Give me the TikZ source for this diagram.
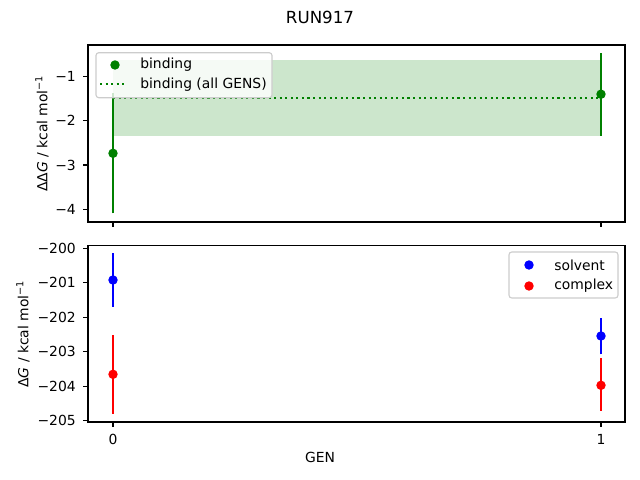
\documentclass[tikz,border=0pt]{standalone}
\usepackage{fontspec}
\setmainfont{DejaVu Sans}
\usepackage{tikz}
\usetikzlibrary{positioning}
\definecolor{mplgreen}{RGB}{0,128,0}
\definecolor{mplframe}{RGB}{204,204,204}
\tikzset{
    errbar/.style={line width=1.5pt},
    spine/.style={line width=0.8pt},
    legbox/.style={draw=mplframe, line width=0.8pt, fill=white, fill opacity=0.8, rounded corners=2pt},
    ticklab/.style={font=\fontsize{10}{12}\selectfont, inner sep=0pt},
}
\newcommand{\mrk}{3.4pt}
\begin{document}
\begin{tikzpicture}[x=0.72pt, y=0.72pt, font=\fontsize{10}{12}\selectfont]
\useasboundingbox (0,0) rectangle (640,480);

\node (title) at (320,463) {\fontsize{12}{14}\selectfont RUN917};

% top panel
\fill[mplgreen, fill opacity=0.2] (113,344.2) rectangle (601,420);
\draw[mplgreen, errbar, dash pattern=on 1.5pt off 2.5pt] (113,382.3)--(601,382.3);
\draw[mplgreen, errbar] (113,266.7)--(113,386.7);
\draw[mplgreen, errbar] (601,344.2)--(601,426.7);
\fill[mplgreen] (113,326.7) circle(\mrk);
\fill[mplgreen] (601,385.8) circle(\mrk);

\draw[spine] (88,258) rectangle (625,435);
\foreach \y/\lab in {403.5/1, 359.2/2, 315.0/3, 270.7/4}
{
    \draw[spine] (88,\y)--++(-4.9,0) node[left=4.9pt, ticklab]{−\lab};
}
\foreach \x in {113, 601}
{
    \draw[spine] (\x,258)--++(0,-4.9);
}
\node[rotate=90] (ylabtop) at (42,346.5) {ΔΔ\textit{G} / kcal mol\textsuperscript{−1}};

% top legend
\draw[legbox] (96,382.3) rectangle (272,427.3);
\fill[mplgreen] (115,415) circle(\mrk);
\node[right, inner sep=0pt] (legbind) at (140,415) {binding};
\draw[mplgreen, errbar, dash pattern=on 1.5pt off 2.5pt] (100,395.7)--(127,395.7);
\node[right, inner sep=0pt] (legall) at (140,395.7) {binding (all GENS)};

% bottom panel
\draw[blue, errbar] (113,173.3)--(113,226.7);
\draw[red, errbar] (113,66)--(113,145);
\draw[blue, errbar] (601,125.7)--(601,162.3);
\draw[red, errbar] (601,69.3)--(601,121.7);
\fill[blue] (113,200) circle(\mrk);
\fill[red] (113,105.7) circle(\mrk);
\fill[blue] (601,144) circle(\mrk);
\fill[red] (601,94.7) circle(\mrk);

\draw[spine] (88,58) rectangle (625,234.5);
\foreach \y/\lab in {231.7/200, 197.2/201, 162.8/202, 128.3/203, 93.8/204, 59.3/205}
{
    \draw[spine] (88,\y)--++(-4.9,0) node[left=4.9pt, ticklab]{−\lab};
}
\foreach \x/\lab in {113/0, 601/1}
{
    \draw[spine] (\x,58)--++(0,-4.9) node[below=4.9pt, ticklab]{\lab};
}
\node[rotate=90] (ylabbot) at (23,146) {Δ\textit{G} / kcal mol\textsuperscript{−1}};
\node (xlab) at (320,23) {GEN};

% bottom legend
\draw[legbox] (509,182) rectangle (618,228);
\fill[blue] (529,215) circle(\mrk);
\node[right, inner sep=0pt] (legsolv) at (554,215) {solvent};
\fill[red] (529,194) circle(\mrk);
\node[right, inner sep=0pt] (legcplx) at (554,194) {complex};

\end{tikzpicture}
\end{document}
